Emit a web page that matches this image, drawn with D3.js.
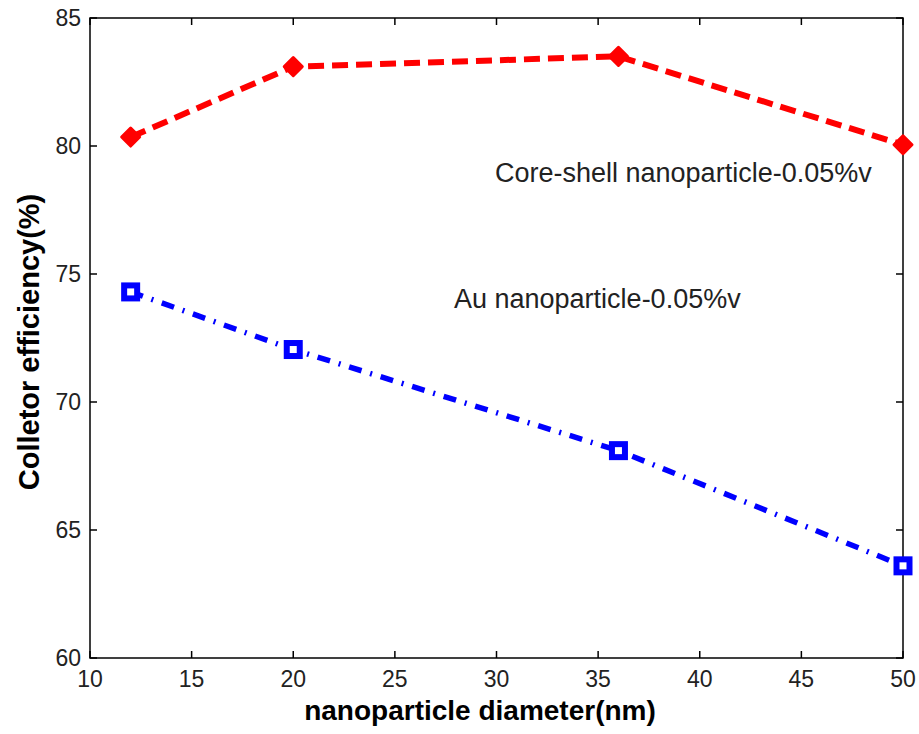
<!DOCTYPE html>
<html>
<head>
<meta charset="utf-8">
<script src="https://cdn.jsdelivr.net/npm/d3@7"></script>
<style>
  body { margin: 0; background: #fff; }
  text { font-family: "Liberation Sans", Arial, sans-serif; }
</style>
</head>
<body>
<svg width="919" height="734"></svg>
<script>
// data
var diameters = [12, 20, 36, 50];
var coreShell = [80.35, 83.1, 83.5, 80.05];
var auOnly = [74.3, 72.05, 68.1, 63.6];
var xTicks = [10, 15, 20, 25, 30, 35, 40, 45, 50];
var yTicks = [60, 65, 70, 75, 80, 85];

(function() {

var svg = d3.select('svg');
var pLeft = 90, pRight = 903, pTop = 18, pBottom = 658;

var x = d3.scaleLinear().domain([10, 50]).range([pLeft, pRight]);
var y = d3.scaleLinear().domain([60, 85]).range([pBottom, pTop]);

// box
svg.append('rect')
	.attr('x', pLeft).attr('y', pTop)
	.attr('width', pRight - pLeft).attr('height', pBottom - pTop)
	.style('fill', 'none').style('stroke', '#000').style('stroke-width', 1.5);

var tl = 7;
// inside ticks on all four sides
var ax = svg.append('g').style('stroke', '#000').style('stroke-width', 1.5);
xTicks.forEach(function(t) {
	ax.append('line').attr('x1', x(t)).attr('x2', x(t)).attr('y1', pBottom).attr('y2', pBottom - tl);
	ax.append('line').attr('x1', x(t)).attr('x2', x(t)).attr('y1', pTop).attr('y2', pTop + tl);
});
yTicks.forEach(function(t) {
	ax.append('line').attr('x1', pLeft).attr('x2', pLeft + tl).attr('y1', y(t)).attr('y2', y(t));
	ax.append('line').attr('x1', pRight).attr('x2', pRight - tl).attr('y1', y(t)).attr('y2', y(t));
});

svg.selectAll('.xl').data(xTicks).enter().append('text')
	.attr('x', function(d) { return x(d); })
	.attr('y', 687)
	.attr('text-anchor', 'middle')
	.style('font-size', '23px').style('fill', '#222')
	.text(function(d) { return d; });

svg.selectAll('.yl').data(yTicks).enter().append('text')
	.attr('x', 81)
	.attr('y', function(d) { return y(d) + 8; })
	.attr('text-anchor', 'end')
	.style('font-size', '23px').style('fill', '#222')
	.text(function(d) { return d; });

// axis titles
svg.append('text')
	.attr('x', 480).attr('y', 720)
	.attr('text-anchor', 'middle')
	.style('font-size', '28px').style('font-weight', 'bold')
	.text('nanoparticle diameter(nm)');

svg.append('text')
	.attr('transform', 'translate(39,342) rotate(-90)')
	.attr('text-anchor', 'middle')
	.style('font-size', '29px').style('font-weight', 'bold')
	.text('Colletor efficiency(%)');

var line = d3.line()
	.x(function(d) { return x(d[0]); })
	.y(function(d) { return y(d[1]); });

var redPts = d3.zip(diameters, coreShell);
var bluePts = d3.zip(diameters, auOnly);

svg.append('path')
	.attr('d', line(redPts))
	.style('fill', 'none').style('stroke', '#ff0000')
	.style('stroke-width', 6).style('stroke-dasharray', '16,8');

svg.append('path')
	.attr('d', line(bluePts))
	.style('fill', 'none').style('stroke', '#0000ff')
	.style('stroke-width', 5.5).style('stroke-dasharray', '13,9,2,9');

// diamond markers (wider than d3's symbolDiamond)
svg.selectAll('.dm').data(redPts).enter().append('path')
	.attr('d', 'M0,-9L9,0L0,9L-9,0Z')
	.attr('transform', function(d) { return 'translate(' + x(d[0]) + ',' + y(d[1]) + ')'; })
	.style('fill', '#ff0000').style('stroke', '#ff0000').style('stroke-width', 3)
	.style('stroke-linejoin', 'round');

// square markers
svg.selectAll('.sq').data(bluePts).enter().append('rect')
	.attr('x', function(d) { return x(d[0]) - 6.5; })
	.attr('y', function(d) { return y(d[1]) - 6.5; })
	.attr('width', 13).attr('height', 13)
	.style('fill', '#fff').style('stroke', '#0000ff').style('stroke-width', 6);

// annotations
svg.append('text')
	.attr('x', 495).attr('y', 182)
	.style('font-size', '27px').style('fill', '#222')
	.text('Core-shell nanoparticle-0.05%v');

svg.append('text')
	.attr('x', 454).attr('y', 308)
	.style('font-size', '27px').style('fill', '#222')
	.text('Au nanoparticle-0.05%v');

})();
</script>
</body>
</html>
